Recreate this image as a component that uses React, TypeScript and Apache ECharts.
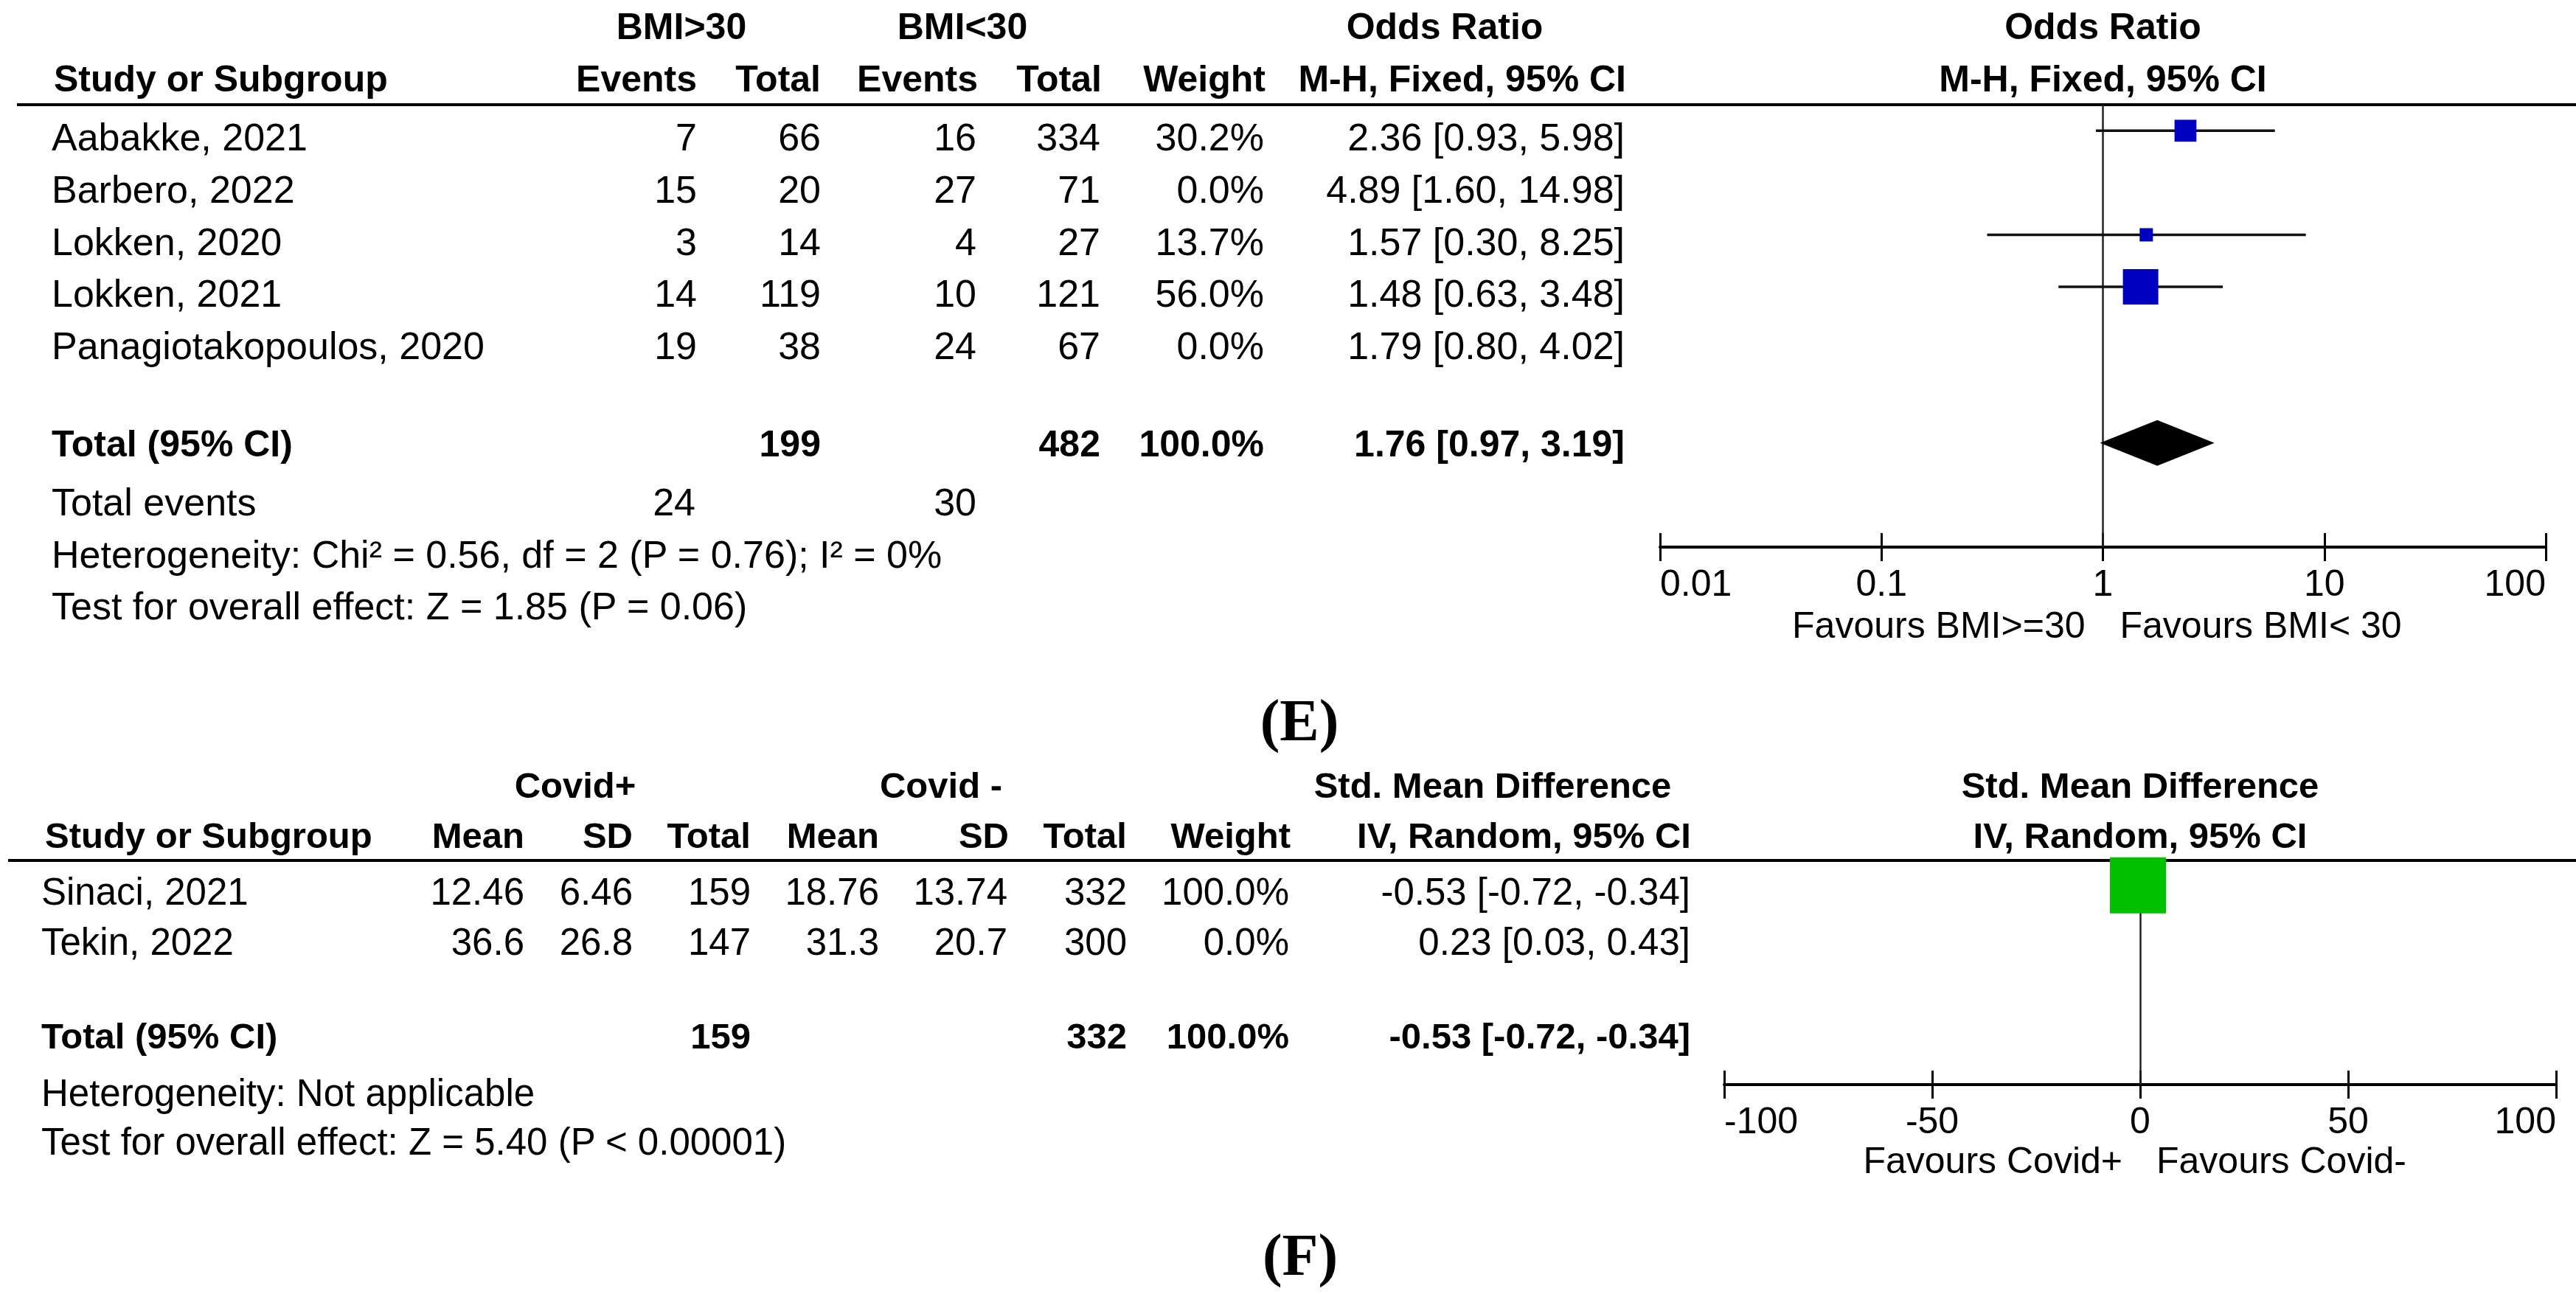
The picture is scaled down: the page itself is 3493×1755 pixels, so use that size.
import React, { useEffect, useRef } from "react";
import * as echarts from "echarts";

// ---------- Panel (E) data ----------
const studiesE = ["Aabakke, 2021", "Barbero, 2022", "Lokken, 2020", "Lokken, 2021", "Panagiotakopoulos, 2020"];
const eventsHighE = [7, 15, 3, 14, 19];
const totalHighE = [66, 20, 14, 119, 38];
const eventsLowE = [16, 27, 4, 10, 24];
const totalLowE = [334, 71, 27, 121, 67];
const weightE = [30.2, 0.0, 13.7, 56.0, 0.0];
const orE = [2.36, 4.89, 1.57, 1.48, 1.79];
const orLoE = [0.93, 1.6, 0.3, 0.63, 0.8];
const orHiE = [5.98, 14.98, 8.25, 3.48, 4.02];
const totalsE = [199, 482];
const totalEventsE = [24, 30];
const pooledE = [1.76, 0.97, 3.19];
const ticksE = [0.01, 0.1, 1, 10, 100];

// ---------- Panel (F) data ----------
const studiesF = ["Sinaci, 2021", "Tekin, 2022"];
const meanPosF = [12.46, 36.6];
const sdPosF = [6.46, 26.8];
const nPosF = [159, 147];
const meanNegF = [18.76, 31.3];
const sdNegF = [13.74, 20.7];
const nNegF = [332, 300];
const weightF = [100.0, 0.0];
const smdF = [-0.53, 0.23];
const smdLoF = [-0.72, 0.03];
const smdHiF = [-0.34, 0.43];
const totalsF = [159, 332];
const pooledF = [-0.53, -0.72, -0.34];

const FONT = '"Liberation Sans", Arial, Helvetica, sans-serif';
const SERIF = '"Liberation Serif", "Times New Roman", serif';

// layout
const gridE = { left: 2251, top: 142, width: 1201, height: 600 };
const gridF = { left: 2338, top: 1167, width: 1128, height: 304 };
const TOTAL_ROW_E = 6;

function txt(text: string, x: number, y: number, align: string, opts: any = {}) {
  const size = opts.size ?? 52;
  const weight = opts.bold ? "bold" : "normal";
  const family = opts.family ?? FONT;
  return {
    type: "text",
    silent: true,
    style: {
      text,
      x,
      y,
      fill: "#000",
      font: `${weight} ${size}px ${family}`,
      fontSize: size,
      fontWeight: weight,
      fontFamily: family,
      align,
      verticalAlign: "middle",
      textAlign: align,
      textVerticalAlign: "middle",
    },
  };
}

function hline(x1: number, x2: number, y: number, w = 4) {
  return { type: "line", silent: true, shape: { x1, y1: y, x2, y2: y }, style: { stroke: "#000", lineWidth: w } };
}

const f2 = (v: number) => v.toFixed(2);
const ciText = (m: number, lo: number, hi: number) => `${f2(m)} [${f2(lo)}, ${f2(hi)}]`;
const pct = (w: number) => `${w.toFixed(1)}%`;

function buildGraphics() {
  const g: any[] = [];
  // ---- Panel E table ----
  const E = { head1: 36, head2: 107, line: 142, row0: 186, step: 70.75, total: 602, events: 681, het: 752, test: 822, left: 70 };
  const cE = { ev1: 945, n1: 1113, ev2: 1324, n2: 1492, w: 1714, ci: 2203 };
  const cxE = gridE.left + gridE.width / 2;
  g.push(txt("BMI>30", 924, E.head1, "center", { bold: true, size: 50 }));
  g.push(txt("BMI<30", 1305, E.head1, "center", { bold: true, size: 50 }));
  g.push(txt("Odds Ratio", 1959, E.head1, "center", { bold: true, size: 50 }));
  g.push(txt("Odds Ratio", cxE, E.head1, "center", { bold: true, size: 50 }));
  g.push(txt("Study or Subgroup", 73, E.head2, "left", { bold: true, size: 50 }));
  g.push(txt("Events", cE.ev1, E.head2, "right", { bold: true, size: 50 }));
  g.push(txt("Total", cE.n1, E.head2, "right", { bold: true, size: 50 }));
  g.push(txt("Events", cE.ev2 + 2, E.head2, "right", { bold: true, size: 50 }));
  g.push(txt("Total", cE.n2 + 2, E.head2, "right", { bold: true, size: 50 }));
  g.push(txt("Weight", cE.w + 2, E.head2, "right", { bold: true, size: 50 }));
  g.push(txt("M-H, Fixed, 95% CI", cE.ci + 2, E.head2, "right", { bold: true, size: 50 }));
  g.push(txt("M-H, Fixed, 95% CI", cxE, E.head2, "center", { bold: true, size: 50 }));
  g.push(hline(23, 3493, E.line));
  studiesE.forEach((s, i) => {
    const y = E.row0 + E.step * i;
    g.push(txt(s, E.left, y, "left"));
    g.push(txt(String(eventsHighE[i]), cE.ev1, y, "right"));
    g.push(txt(String(totalHighE[i]), cE.n1, y, "right"));
    g.push(txt(String(eventsLowE[i]), cE.ev2, y, "right"));
    g.push(txt(String(totalLowE[i]), cE.n2, y, "right"));
    g.push(txt(pct(weightE[i]), cE.w, y, "right"));
    g.push(txt(ciText(orE[i], orLoE[i], orHiE[i]), cE.ci, y, "right"));
  });
  g.push(txt("Total (95% CI)", E.left, E.total, "left", { bold: true, size: 50 }));
  g.push(txt(String(totalsE[0]), cE.n1, E.total, "right", { bold: true, size: 50 }));
  g.push(txt(String(totalsE[1]), cE.n2, E.total, "right", { bold: true, size: 50 }));
  g.push(txt("100.0%", cE.w, E.total, "right", { bold: true, size: 50 }));
  g.push(txt(ciText(pooledE[0], pooledE[1], pooledE[2]), cE.ci, E.total, "right", { bold: true, size: 50 }));
  g.push(txt("Total events", E.left, E.events, "left"));
  g.push(txt(String(totalEventsE[0]), cE.ev1 - 2, E.events, "right"));
  g.push(txt(String(totalEventsE[1]), cE.ev2, E.events, "right"));
  g.push(txt("Heterogeneity: Chi\u00B2 = 0.56, df = 2 (P = 0.76); I\u00B2 = 0%", E.left, E.het, "left"));
  g.push(txt("Test for overall effect: Z = 1.85 (P = 0.06)", E.left, E.test, "left"));
  g.push(txt("Favours BMI>=30", cxE - 24, 848, "right", { size: 50 }));
  g.push(txt("Favours BMI< 30", cxE + 23, 848, "left", { size: 50 }));
  g.push(txt("(E)", 1762, 977, "center", { bold: true, size: 80, family: SERIF }));

  // ---- Panel F table ----
  const F = { head1: 1065, head2: 1133, line: 1167, row0: 1209, step: 68, total: 1405, het: 1482, test: 1548, left: 56 };
  const cF = { m1: 711, sd1: 858, n1: 1018, m2: 1192, sd2: 1366, n2: 1528, w: 1748, ci: 2292 };
  const cxF = gridF.left + gridF.width / 2;
  const hb = { bold: true, size: 49 };
  g.push(txt("Covid+", 780, F.head1, "center", hb));
  g.push(txt("Covid -", 1276, F.head1, "center", hb));
  g.push(txt("Std. Mean Difference", 2024, F.head1, "center", hb));
  g.push(txt("Std. Mean Difference", cxF, F.head1, "center", hb));
  g.push(txt("Study or Subgroup", 61, F.head2, "left", hb));
  g.push(txt("Mean", cF.m1, F.head2, "right", hb));
  g.push(txt("SD", cF.sd1, F.head2, "right", hb));
  g.push(txt("Total", cF.n1, F.head2, "right", hb));
  g.push(txt("Mean", cF.m2, F.head2, "right", hb));
  g.push(txt("SD", cF.sd2 + 2, F.head2, "right", hb));
  g.push(txt("Total", cF.n2, F.head2, "right", hb));
  g.push(txt("Weight", cF.w + 2, F.head2, "right", hb));
  g.push(txt("IV, Random, 95% CI", cF.ci + 1, F.head2, "right", hb));
  g.push(txt("IV, Random, 95% CI", cxF, F.head2, "center", hb));
  g.push(hline(11, 3493, F.line));
  const nf = { size: 51 };
  studiesF.forEach((s, i) => {
    const y = F.row0 + F.step * i;
    g.push(txt(s, F.left, y, "left", nf));
    g.push(txt(String(meanPosF[i]), cF.m1, y, "right", nf));
    g.push(txt(String(sdPosF[i]), cF.sd1, y, "right", nf));
    g.push(txt(String(nPosF[i]), cF.n1, y, "right", nf));
    g.push(txt(String(meanNegF[i]), cF.m2, y, "right", nf));
    g.push(txt(String(sdNegF[i]), cF.sd2, y, "right", nf));
    g.push(txt(String(nNegF[i]), cF.n2, y, "right", nf));
    g.push(txt(pct(weightF[i]), cF.w, y, "right", nf));
    g.push(txt(ciText(smdF[i], smdLoF[i], smdHiF[i]), cF.ci, y, "right", nf));
  });
  g.push(txt("Total (95% CI)", F.left, F.total, "left", hb));
  g.push(txt(String(totalsF[0]), cF.n1, F.total, "right", hb));
  g.push(txt(String(totalsF[1]), cF.n2, F.total, "right", hb));
  g.push(txt("100.0%", cF.w, F.total, "right", hb));
  g.push(txt(ciText(pooledF[0], pooledF[1], pooledF[2]), cF.ci, F.total, "right", hb));
  g.push(txt("Heterogeneity: Not applicable", F.left, F.het, "left", nf));
  g.push(txt("Test for overall effect: Z = 5.40 (P < 0.00001)", F.left, F.test, "left", nf));
  g.push(txt("Favours Covid+", cxF - 24, 1574, "right", { size: 50 }));
  g.push(txt("Favours Covid-", cxF + 22, 1574, "left", { size: 50 }));
  g.push(txt("(F)", 1763, 1702, "center", { bold: true, size: 80, family: SERIF }));
  return g;
}

const sizeE = (w: number) => 8.3 + 0.709 * w;
const sizeF = (w: number) => 6 + 0.7 * w;

function ciRender(params: any, api: any) {
  const y = api.value(2);
  const p1 = api.coord([api.value(0), y]);
  const p2 = api.coord([api.value(1), y]);
  return {
    type: "line",
    shape: { x1: p1[0], y1: p1[1], x2: p2[0], y2: p2[1] },
    style: { stroke: "#111", lineWidth: 3.5 },
  };
}

function diamondRender(half: number) {
  return (params: any, api: any) => {
    const y = api.value(3);
    const c = api.coord([api.value(0), y]);
    const l = api.coord([api.value(1), y]);
    const r = api.coord([api.value(2), y]);
    return {
      type: "polygon",
      shape: { points: [[l[0], c[1]], [c[0], c[1] - half], [r[0], c[1]], [c[0], c[1] + half]] },
      style: { fill: "#000" },
    };
  };
}

const logLabel = (v: number) => {
  const e = Math.round(Math.log10(v));
  return e < 0 ? Math.pow(10, e).toFixed(-e) : String(Math.round(Math.pow(10, e)));
};

function axisPair(gridIndex: number, base: any, labelOpt: any) {
  const outer = {
    ...base,
    gridIndex,
    position: "bottom",
    axisLine: { show: true, onZero: false, lineStyle: { color: "#000", width: 4 } },
    axisTick: { show: true, inside: false, length: 19, lineStyle: { color: "#000", width: 3 } },
    axisLabel: {
      show: true,
      color: "#000",
      fontSize: 50,
      fontFamily: FONT,
      margin: 24,
      alignMinLabel: "left",
      alignMaxLabel: "right",
      ...labelOpt,
    },
    splitLine: { show: false },
  };
  const inner = {
    ...base,
    gridIndex,
    position: "bottom",
    axisLine: { show: false, onZero: false },
    axisTick: { show: true, inside: true, length: 19, lineStyle: { color: "#000", width: 3 } },
    axisLabel: { show: false },
    splitLine: { show: false },
  };
  return [outer, inner];
}

function buildOption() {
  const ciDataE = orE.map((_, i) => [orLoE[i], orHiE[i], i]).filter((_, i) => weightE[i] > 0);
  const sqDataE = orE.map((v, i) => [v, i, weightE[i]]).filter((_, i) => weightE[i] > 0);
  const ciDataF = smdF.map((_, i) => [smdLoF[i], smdHiF[i], i]).filter((_, i) => weightF[i] > 0);
  const sqDataF = smdF.map((v, i) => [v, i, weightF[i]]).filter((_, i) => weightF[i] > 0);

  const [xE0, xE1] = axisPair(0, { type: "log", logBase: 10, min: ticksE[0], max: ticksE[ticksE.length - 1] }, { formatter: logLabel });
  const [xF0, xF1] = axisPair(1, { type: "value", min: -100, max: 100, interval: 50 }, {});

  const refLine = (x: number) => ({
    silent: true,
    symbol: "none",
    label: { show: false },
    lineStyle: { color: "#222", width: 2.5, type: "solid", opacity: 1 },
    data: [{ xAxis: x }],
    z: 2,
  });

  return {
    animation: false,
    backgroundColor: "#fff",
    grid: [
      { ...gridE, containLabel: false },
      { ...gridF, containLabel: false },
    ],
    xAxis: [xE0, xE1, xF0, xF1],
    yAxis: [
      { type: "value", gridIndex: 0, min: -0.5, max: 8, inverse: true, show: false },
      { type: "value", gridIndex: 1, min: -0.5, max: 4, inverse: true, show: false },
    ],
    graphic: { elements: buildGraphics() },
    series: [
      {
        type: "custom",
        xAxisIndex: 0,
        yAxisIndex: 0,
        renderItem: ciRender,
        encode: { x: [0, 1], y: 2 },
        data: ciDataE,
        z: 3,
        silent: true,
      },
      {
        type: "scatter",
        xAxisIndex: 0,
        yAxisIndex: 0,
        symbol: "rect",
        symbolSize: (v: number[]) => sizeE(v[2]),
        itemStyle: { color: "#0000C0", opacity: 1 },
        data: sqDataE,
        z: 4,
        silent: true,
        markLine: refLine(1),
      },
      {
        type: "custom",
        xAxisIndex: 0,
        yAxisIndex: 0,
        renderItem: diamondRender(31),
        encode: { x: [0, 1, 2], y: 3 },
        data: [[pooledE[0], pooledE[1], pooledE[2], TOTAL_ROW_E]],
        z: 5,
        silent: true,
      },
      {
        type: "custom",
        xAxisIndex: 2,
        yAxisIndex: 1,
        renderItem: ciRender,
        encode: { x: [0, 1], y: 2 },
        data: ciDataF,
        z: 3,
        silent: true,
      },
      {
        type: "scatter",
        xAxisIndex: 2,
        yAxisIndex: 1,
        symbol: "rect",
        symbolSize: (v: number[]) => sizeF(v[2]),
        itemStyle: { color: "#00C000", opacity: 1 },
        data: sqDataF,
        z: 4,
        silent: true,
        markLine: refLine(0),
      },
    ],
  };
}

export default function App() {
  const ref = useRef<HTMLDivElement>(null);
  useEffect(() => {
    if (!ref.current) return;
    const chart = echarts.init(ref.current, null, { renderer: "svg" });
    chart.setOption(buildOption() as any);
    return () => chart.dispose();
  }, []);
  return (
    <div
      ref={ref}
      style={{ position: "fixed", left: 0, top: 0, width: 3493, height: 1755, background: "#fff" }}
    />
  );
}
